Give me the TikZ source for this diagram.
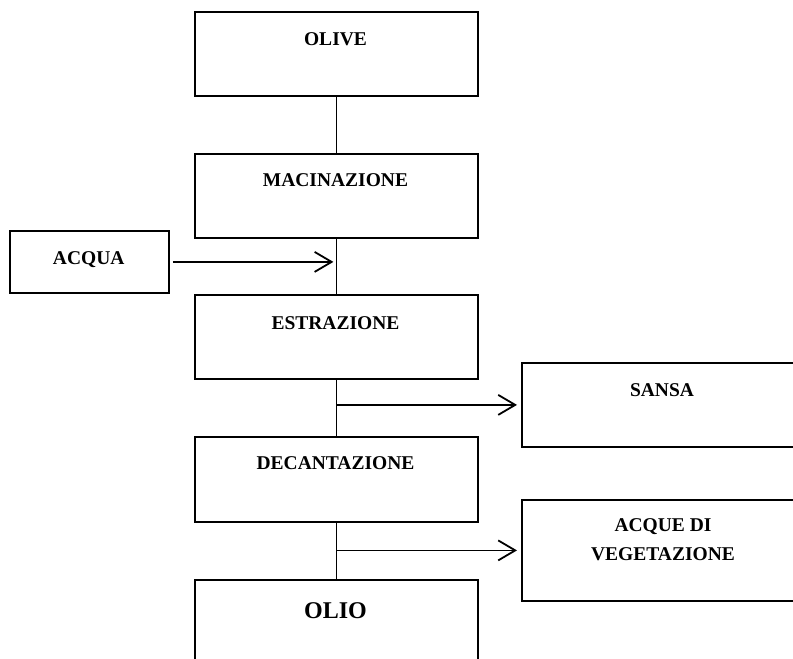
\documentclass[tikz,border=0pt]{standalone}
\usepackage{fontspec}
\setmainfont{Liberation Serif}
\usetikzlibrary{arrows.meta}
\begin{document}
\begin{tikzpicture}[x=1pt,y=-1pt,
  box/.style={draw,line width=1.8pt,anchor=north west,inner sep=0pt},
  lbl/.style={font=\fontsize{19.5}{29}\selectfont\bfseries,inner sep=0pt,anchor=base},
  big/.style={font=\fontsize{24}{29}\selectfont\bfseries,inner sep=0pt,anchor=base},
  flow/.style={line width=1.8pt},
  arr/.style={flow,-{Straight Barb[length=17pt,width=20pt,line width=1.8pt]}}]
\useasboundingbox (0,0) rectangle (793,659);
\clip (0,0) rectangle (793,659);
% boxes
\node[box,minimum width=283pt,minimum height=84pt] (olive) at (194,11) {};
\node[box,minimum width=283pt,minimum height=84pt] (mac) at (194,153) {};
\node[box,minimum width=159pt,minimum height=62pt] (acqua) at (9,230) {};
\node[box,minimum width=283pt,minimum height=84pt] (estr) at (194,294) {};
\node[box,minimum width=300pt,minimum height=84pt] (sansa) at (521,362) {};
\node[box,minimum width=283pt,minimum height=85pt] (decant) at (194,436) {};
\node[box,minimum width=300pt,minimum height=101pt] (acque) at (521,499) {};
\node[box,minimum width=283pt,minimum height=120pt] (olio) at (194,579) {};
% labels
\node[lbl] (tolive) at (335.5,45) {OLIVE};
\node[lbl] (tmac) at (335.5,186.7) {MACINAZIONE};
\node[lbl] (tacqua) at (88.7,264) {ACQUA};
\node[lbl] (testr) at (335.5,329) {ESTRAZIONE};
\node[lbl] (tsansa) at (662,396) {SANSA};
\node[lbl] (tdecant) at (335.5,469) {DECANTAZIONE};
\node[lbl,anchor=center,align=center] (tacque) at (663,540) {ACQUE DI\\VEGETAZIONE};
\node[big] (tolio) at (335.5,618.3) {OLIO};
% connectors
\draw[flow] (olive) -- (mac);
\draw[flow] (mac) -- (estr);
\draw[flow] (estr) -- (decant);
\draw[flow] (decant) -- (olio);
\draw[arr,shorten <=3pt,shorten >=3pt] (acqua.east) -- (acqua.east -| mac.south);
\draw[arr,shorten >=4pt] (sansa.west -| estr.south) -- (sansa.west);
\draw[arr,shorten >=4pt] (acque.west -| decant.south) -- (acque.west);
\end{tikzpicture}
\end{document}
